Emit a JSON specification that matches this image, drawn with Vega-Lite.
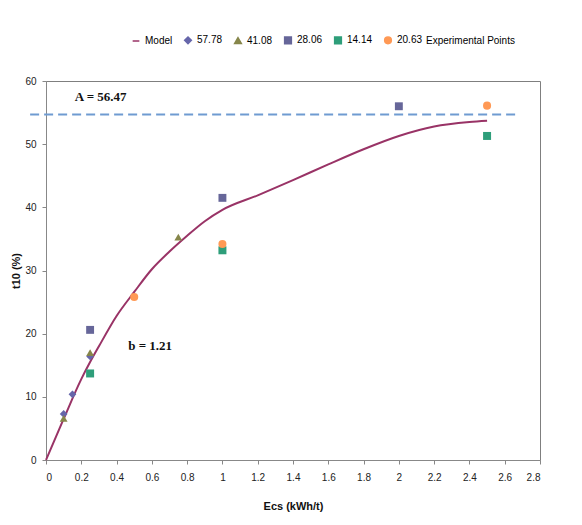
{
  "$schema": "https://vega.github.io/schema/vega-lite/v6.json",
  "autosize": "none",
  "width": 494,
  "height": 379,
  "padding": {"left": 46, "top": 81, "right": 42, "bottom": 65},
  "background": "white",
  "config": {
    "view": {"stroke": "#7f7f7f", "strokeWidth": 1},
    "font": "Liberation Sans",
    "axis": {"grid": false, "domainColor": "#888888", "tickColor": "#888888", "labelFont": "Liberation Sans", "labelFontSize": 10, "labelColor": "#222222", "titleFont": "Liberation Sans", "titleFontSize": 11, "titleFontWeight": "bold", "titleColor": "#111111", "tickSize": 4, "labelOverlap": false}
  },
  "datasets": {
    "model": [
      {"x": 0, "y": 0}, {"x": 0.1, "y": 6.5}, {"x": 0.2, "y": 12.8}, {"x": 0.25, "y": 15.5},
      {"x": 0.3, "y": 18}, {"x": 0.4, "y": 22.8}, {"x": 0.5, "y": 26.6}, {"x": 0.6, "y": 30.2},
      {"x": 0.7, "y": 33}, {"x": 0.8, "y": 35.5}, {"x": 0.9, "y": 37.8}, {"x": 1.0, "y": 39.6},
      {"x": 1.2, "y": 41.9}, {"x": 1.4, "y": 44.3}, {"x": 1.6, "y": 46.8}, {"x": 1.8, "y": 49.2},
      {"x": 2.0, "y": 51.3}, {"x": 2.2, "y": 52.8}, {"x": 2.4, "y": 53.5}, {"x": 2.5, "y": 53.7}
    ],
    "points": [
      {"series": "57.78", "x": 0.1, "y": 7.3},
      {"series": "57.78", "x": 0.15, "y": 10.4},
      {"series": "57.78", "x": 0.25, "y": 16.4},
      {"series": "41.08", "x": 0.1, "y": 6.6},
      {"series": "41.08", "x": 0.25, "y": 17.0},
      {"series": "41.08", "x": 0.75, "y": 35.3},
      {"series": "28.06", "x": 0.25, "y": 20.6},
      {"series": "28.06", "x": 1.0, "y": 41.5},
      {"series": "28.06", "x": 2.0, "y": 56.0},
      {"series": "14.14", "x": 0.25, "y": 13.7},
      {"series": "14.14", "x": 1.0, "y": 33.2},
      {"series": "14.14", "x": 2.5, "y": 51.3},
      {"series": "20.63", "x": 0.5, "y": 25.8},
      {"series": "20.63", "x": 1.0, "y": 34.2},
      {"series": "20.63", "x": 2.5, "y": 56.1}
    ],
    "asym": [{"x": -0.09, "y": 54.7}, {"x": 2.66, "y": 54.7}],
    "labels": [
      {"x": 0.31, "y": 57.4, "text": "A = 56.47"},
      {"x": 0.59, "y": 18.0, "text": "b = 1.21"}
    ]
  },
  "encoding": {
    "x": {"field": "x", "type": "quantitative", "scale": {"domain": [0, 2.8], "nice": false}, "axis": {"values": [0, 0.2, 0.4, 0.6, 0.8, 1, 1.2, 1.4, 1.6, 1.8, 2, 2.2, 2.4, 2.6, 2.8], "format": "~g", "labelOverlap": false, "title": "Ecs (kWh/t)", "titlePadding": 18, "labelPadding": 8}},
    "y": {"field": "y", "type": "quantitative", "scale": {"domain": [0, 60], "nice": false}, "axis": {"values": [0, 10, 20, 30, 40, 50, 60], "title": "t10 (%)", "titlePadding": 3, "labelPadding": 6}},
    "color": {
      "scale": {"domain": ["Model", "57.78", "41.08", "28.06", "14.14", "20.63"], "range": ["#993366", "#6666aa", "#86864a", "#666699", "#2e9e7a", "#ff9955"]},
      "legend": {"orient": "none", "legendX": 85, "legendY": -46, "direction": "horizontal", "title": "Experimental Points", "titleOrient": "right", "titleFontWeight": "normal", "titleFontSize": 10, "titleFont": "Liberation Sans", "labelFontSize": 10, "labelFont": "Liberation Sans", "symbolSize": 45, "columnPadding": 8, "labelOffset": 4, "titlePadding": 4}
    },
    "shape": {
      "scale": {"domain": ["Model", "57.78", "41.08", "28.06", "14.14", "20.63"], "range": ["stroke", "diamond", "triangle-up", "square", "square", "circle"]}
    }
  },
  "layer": [
    {
      "data": {"name": "asym"},
      "mark": {"type": "line", "color": "#6f9bd1", "strokeWidth": 2, "strokeDash": [9, 5]},
      "encoding": {}
    },
    {
      "data": {"name": "model"},
      "mark": {"type": "line", "strokeWidth": 2, "interpolate": "monotone"},
      "encoding": {
        "color": {"datum": "Model", "type": "nominal"}
      }
    },
    {
      "data": {"name": "points"},
      "mark": {"type": "point", "filled": true, "opacity": 1, "strokeWidth": 1},
      "encoding": {
        "color": {"field": "series", "type": "nominal"},
        "shape": {"field": "series", "type": "nominal"},
        "size": {"field": "series", "type": "nominal", "legend": null, "scale": {"domain": ["57.78", "41.08", "28.06", "14.14", "20.63"], "range": [60, 65, 120, 110, 45]}}
      }
    },
    {
      "data": {"name": "labels"},
      "mark": {"type": "text", "font": "Liberation Serif", "fontWeight": "bold", "fontSize": 13, "color": "#111111"},
      "encoding": {
        "text": {"field": "text"}
      }
    }
  ]
}
